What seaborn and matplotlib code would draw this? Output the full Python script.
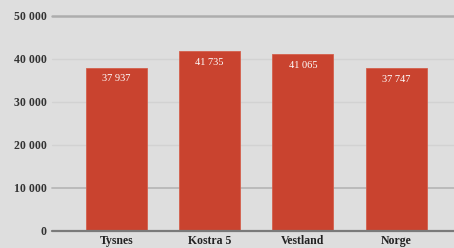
import matplotlib
matplotlib.use("Agg")
import matplotlib.pyplot as plt
import seaborn as sns
import pandas as pd

categories = ["Tysnes", "Kostra 5", "Vestland", "Norge"]
values = [37937, 41735, 41065, 37747]
yticks = [0, 10000, 20000, 30000, 40000, 50000]
ytick_labels = ["0", "10 000", "20 000", "30 000", "40 000", "50 000"]
value_labels = ["37 937", "41 735", "41 065", "37 747"]

df = pd.DataFrame({"cat": categories, "val": values})

sns.set_theme(style="white")
plt.rcParams['font.family'] = ['Liberation Serif', 'DejaVu Serif']

W, H = 454, 248
fig = plt.figure(figsize=(W / 100, H / 100), dpi=100)
fig.patch.set_facecolor("#dedede")
x0, x1 = 52, 454
ytop, ybot = 15.7, 230.5
ax = fig.add_axes([x0 / W, 1 - ybot / H, (x1 - x0) / W, (ybot - ytop) / H])
ax.set_facecolor("#dedede")

sns.barplot(data=df, x="cat", y="val", color="#c9432f", width=0.655,
            saturation=1, ax=ax, edgecolor="#d4604c", linewidth=0.6, zorder=3)

ax.set_ylim(0, 50000)
ax.set_xlim(-0.69, 3.62)
for s in ax.spines.values():
    s.set_visible(False)

grid_styles = {0: ("#7a7a7a", 1.6), 10000: ("#b8b8b8", 1.3), 20000: ("#d2d2d2", 1.0),
               30000: ("#d2d2d2", 1.0), 40000: ("#d2d2d2", 1.0), 50000: ("#adadad", 1.8)}
for yv in yticks:
    c, lw = grid_styles[yv]
    ax.axhline(yv, color=c, lw=lw, zorder=4 if yv == 0 else 1, clip_on=False)

ax.set_yticks(yticks)
ax.set_yticklabels(ytick_labels, fontsize=8.5, fontweight="bold", color="#333333")
ax.tick_params(axis="y", length=0, pad=4)
ax.tick_params(axis="x", length=0, pad=3.5)
ax.set_xticks(range(len(categories)))
ax.set_xticklabels(categories, fontsize=8.5, fontweight="bold", color="#222222")
ax.set_xlabel("")
ax.set_ylabel("")

for i, (v, lab) in enumerate(zip(values, value_labels)):
    ax.annotate(lab, (i, v), xytext=(0, -5), textcoords="offset points",
                ha="center", va="top", color="white", fontsize=7.5, zorder=5)

fig.savefig("out.png", dpi=100, facecolor=fig.get_facecolor())
